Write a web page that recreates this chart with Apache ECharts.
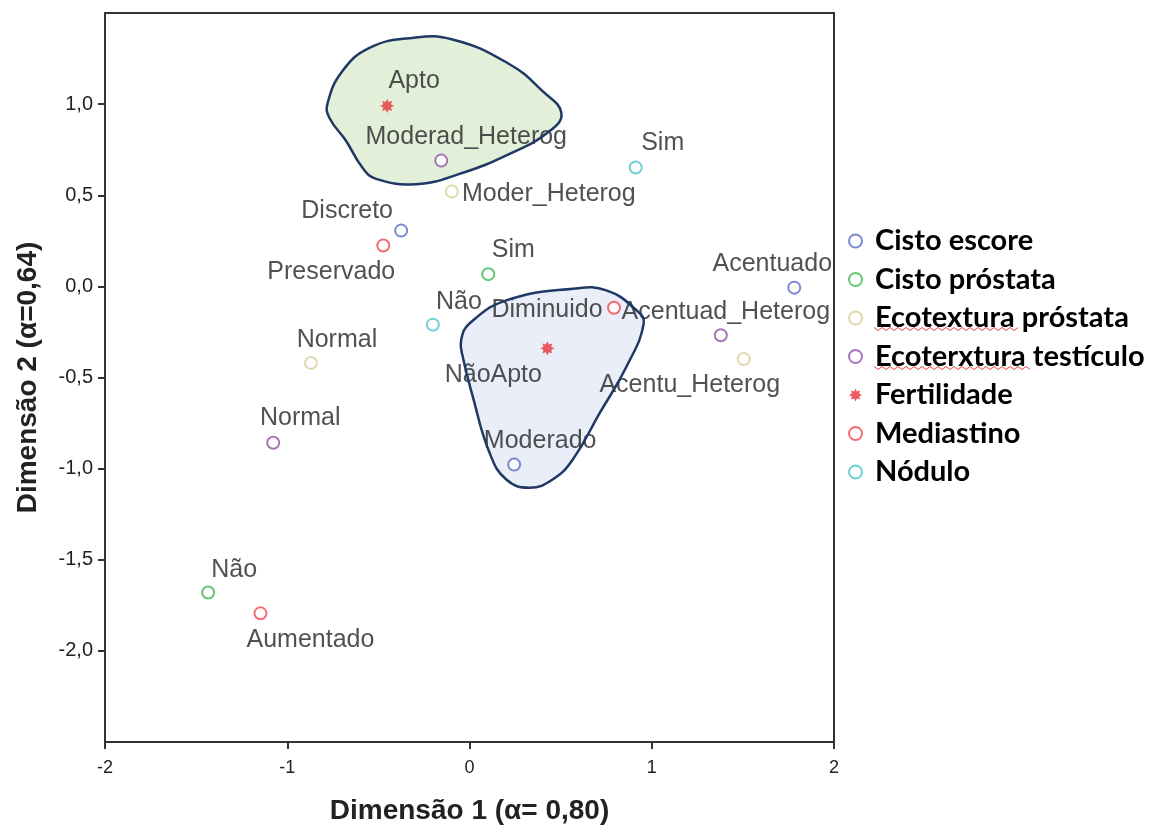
<!DOCTYPE html>
<html><head><meta charset="utf-8">
<script src="https://cdn.jsdelivr.net/npm/echarts@6/dist/echarts.min.js"></script>
<style>html,body{margin:0;padding:0;background:#fff}#c{width:1152px;height:825px}</style>
</head><body><div id="c"></div>
<script>
// ---- data ----
const seriesNames = ['Cisto escore','Cisto próstata','Ecotextura próstata','Ecoterxtura testículo','Fertilidade','Mediastino','Nódulo'];

const cistoEscoreCats = ['Discreto','Acentuado','Moderado'];
const cistoEscoreVals = [[-0.375, 0.306], [1.782, -0.007], [0.245, -0.978]];

const cistoProstataCats = ['Sim','Não'];
const cistoProstataVals = [[0.103, 0.067], [-1.434, -1.680]];

const ecotexProstataCats = ['Moder_Heterog','Normal','Acentu_Heterog'];
const ecotexProstataVals = [[-0.097, 0.520], [-0.870, -0.420], [1.505, -0.399]];

const ecotexTesticuloCats = ['Moderad_Heterog','Normal','Acentuad_Heterog'];
const ecotexTesticuloVals = [[-0.155, 0.690], [-1.077, -0.858], [1.379, -0.268]];

const fertilidadeCats = ['Apto','NãoApto'];
const fertilidadeVals = [[-0.452, 0.990], [0.427, -0.340]];

const mediastinoCats = ['Preservado','Diminuido','Aumentado'];
const mediastinoVals = [[-0.473, 0.224], [0.793, -0.117], [-1.147, -1.794]];

const noduloCats = ['Sim','Não'];
const noduloVals = [[0.912, 0.652], [-0.201, -0.210]];

const xTickValues = [-2, -1, 0, 1, 2];
const yTickValues = [-2, -1.5, -1, -0.5, 0, 0.5, 1];

// outlines of the two highlighted groups (data units)
const aptoGroupOutline = [[-0.779,1.004],[-0.698,1.180],[-0.549,1.308],[-0.330,1.362],[-0.093,1.355],[0.220,1.219],[0.401,1.071],[0.504,0.952],[0.440,0.852],[0.220,0.727],[-0.055,0.617],[-0.293,0.561],[-0.513,0.590],[-0.588,0.652],[-0.677,0.798],[-0.769,0.925]];
const naoAptoGroupOutline = [[0.000,-0.204],[0.202,-0.077],[0.568,-0.013],[0.751,-0.022],[0.916,-0.131],[0.956,-0.204],[0.861,-0.441],[0.714,-0.696],[0.566,-0.951],[0.456,-1.060],[0.330,-1.105],[0.202,-1.060],[0.110,-0.913],[0.018,-0.605],[-0.037,-0.386],[-0.046,-0.295]];

// ---- presentation ----
const colors = ['#5a6cc4','#3fb94f','#d4cf9a','#9450a8','#e8333a','#ef4a4f','#4cc4c8'];
const labelShifts = [
  [[-54,-19],[-22,-24],[26,-24]],
  [[25,-24],[26,-22]],
  [[97,3],[26,-23],[-54,26]],
  [[25,-24],[27,-25],[5,-23]],
  [[27,-25],[-54,27]],
  [[-52,27],[-67,2],[50,27]],
  [[27,-24],[26,-23]]
];
const starPath = 'path://M20 10 L15.5 12.3 L17.07 17.07 L12.3 15.5 L10 20 L7.7 15.5 L2.93 17.07 L4.5 12.3 L0 10 L4.5 7.7 L2.93 2.93 L7.7 4.5 L10 0 L12.3 4.5 L17.07 2.93 L15.5 7.7 Z';

const groups = [
  [cistoEscoreCats, cistoEscoreVals],
  [cistoProstataCats, cistoProstataVals],
  [ecotexProstataCats, ecotexProstataVals],
  [ecotexTesticuloCats, ecotexTesticuloVals],
  [fertilidadeCats, fertilidadeVals],
  [mediastinoCats, mediastinoVals],
  [noduloCats, noduloVals]
];

const scatterSeries = groups.map(([cats, vals], si) => {
  const isStar = si === 4;
  return {
    name: seriesNames[si],
    type: 'scatter',
    z: 2,
    symbol: isStar ? starPath : 'emptyCircle',
    symbolSize: isStar ? 14 : 12,
    itemStyle: isStar ? { color: colors[si] } : { color: colors[si], borderColor: colors[si], borderWidth: 1.8 },
    label: {
      show: true, position: 'inside',
      fontFamily: 'Liberation Sans, Arial, sans-serif', fontSize: 25, color: '#262626',
      formatter: p => p.name
    },
    emphasis: { disabled: true },
    data: vals.map((v, i) => ({
      name: cats[i], value: v,
      label: { offset: labelShifts[si][i] }
    }))
  };
});

function blobSeries(outline, fill, stroke, z) {
  return {
    type: 'custom', z: z, silent: true,
    data: [[0, 0]],
    renderItem: (params, api) => ({
      type: 'polygon',
      shape: { points: outline.map(p => api.coord(p)), smooth: 0.45 },
      style: { fill: fill, stroke: stroke, lineWidth: 2.5 }
    })
  };
}

const chart = echarts.init(document.getElementById('c'), null, { renderer: 'canvas' });
chart.setOption({
  animation: false,
  backgroundColor: '#fff',
  grid: { left: 105, right: 318, top: 13, bottom: 83, show: true, borderColor: '#333', borderWidth: 2, containLabel: false, outerBoundsMode: 'none' },
  xAxis: {
    type: 'value', min: -2, max: 2, interval: 1,
    name: 'Dimensão 1 (α= 0,80)', nameLocation: 'middle', nameGap: 55,
    nameTextStyle: { fontFamily: 'Liberation Sans, Arial, sans-serif', fontWeight: 'bold', fontSize: 28, color: '#222' },
    axisLine: { onZero: false, lineStyle: { color: '#333', width: 2 } },
    axisTick: { length: 7, lineStyle: { color: '#333', width: 2 }, customValues: xTickValues },
    axisLabel: { fontFamily: 'Liberation Sans, Arial, sans-serif', fontSize: 18, color: '#222', margin: 17, customValues: xTickValues, formatter: v => String(v) },
    splitLine: { show: false }
  },
  yAxis: {
    type: 'value', min: -2.5, max: 1.5, interval: 0.5,
    name: 'Dimensão 2 (α=0,64)', nameLocation: 'middle', nameGap: 63, nameRotate: 90,
    nameTextStyle: { fontFamily: 'Liberation Sans, Arial, sans-serif', fontWeight: 'bold', fontSize: 28, color: '#222' },
    axisLine: { onZero: false, lineStyle: { color: '#333', width: 2 } },
    axisTick: { length: 7, lineStyle: { color: '#333', width: 2 }, customValues: yTickValues },
    axisLabel: { fontFamily: 'Liberation Sans, Arial, sans-serif', fontSize: 20, color: '#222', margin: 12, customValues: yTickValues, formatter: v => v.toFixed(1).replace('.', ',') },
    splitLine: { show: false }
  },
  legend: {
    orient: 'vertical', left: 843, top: 221,
    data: seriesNames,
    itemWidth: 13, itemHeight: 13, itemGap: 8.5,
    textStyle: { fontFamily: 'Lato, Calibri, sans-serif', fontWeight: 'bold', fontSize: 29, lineHeight: 30, color: '#000', padding: [0, 0, 0, 8] },
    selectedMode: false
  },
  series: [
    ...scatterSeries,
    blobSeries(aptoGroupOutline, '#e2f0d9', 'none', 1),
    blobSeries(naoAptoGroupOutline, '#e9eef8', 'none', 1),
    blobSeries(aptoGroupOutline, 'none', '#1f3864', 3),
    blobSeries(naoAptoGroupOutline, 'none', '#1f3864', 3)
  ],
  graphic: [
    { type: 'polyline', silent: true, shape: { points: Array.from({length: 37}, (_, i) => [874 + i * 4, 329 + (i % 2 ? 1.5 : -1.5)]) }, style: { stroke: '#e84040', lineWidth: 1, fill: null } },
    { type: 'polyline', silent: true, shape: { points: Array.from({length: 40}, (_, i) => [874 + i * 4, 368 + (i % 2 ? 1.5 : -1.5)]) }, style: { stroke: '#e84040', lineWidth: 1, fill: null } }
  ]
});
</script>
</body></html>
